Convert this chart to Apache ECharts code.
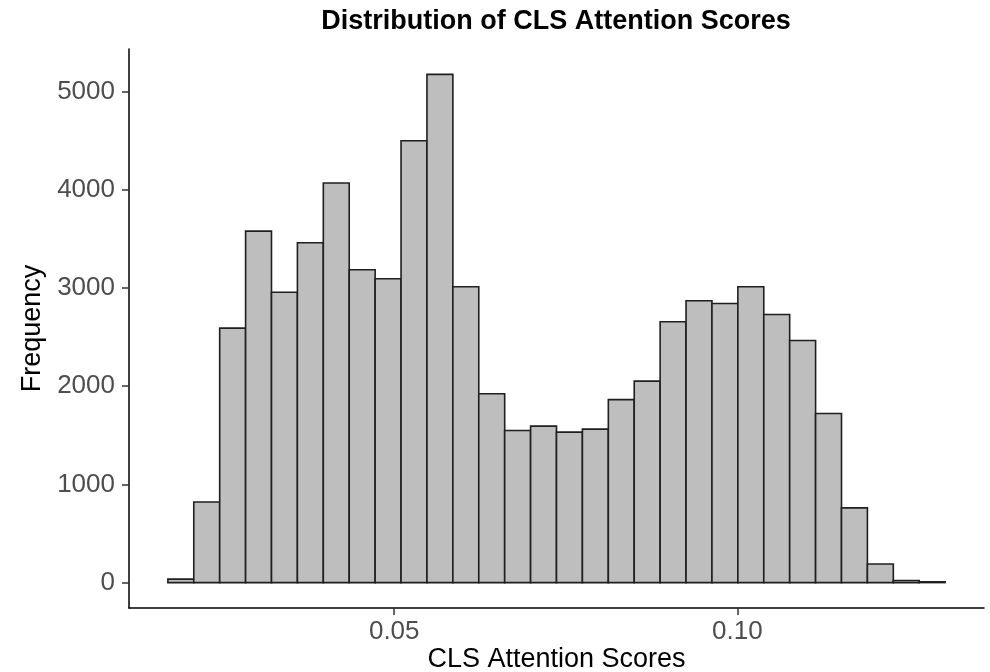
<!DOCTYPE html>
<html>
<head>
<meta charset="utf-8">
<title>Distribution of CLS Attention Scores</title>
<script src="https://cdn.jsdelivr.net/npm/echarts@6/dist/echarts.min.js"></script>
<style>
  html, body { margin: 0; padding: 0; background: #ffffff; }
  #chart { width: 990px; height: 672px; }
</style>
</head>
<body>
<div id="chart"></div>
<script>
// Histogram bins: lower edge of the first bin and common bin width
const binStart = 0.017012;
const binWidth = 0.0037755;

// Counts per bin (30 bins)
const counts = [
  35, 820, 2590, 3578, 2955, 3459, 4067, 3184, 3093, 4498,
  5173, 3011, 1922, 1548, 1593, 1532, 1562, 1862, 2051, 2655,
  2869, 2841, 3011, 2729, 2464, 1721, 761, 190, 22, 8
];

// Tick values
const xTicks = [0.05, 0.10];
const yTicks = [0, 1000, 2000, 3000, 4000, 5000];

const titleText = 'Distribution of CLS Attention Scores';
const xTitle = 'CLS Attention Scores';
const yTitle = 'Frequency';

// Build [lower, upper, count] rows for the custom series
const rows = counts.map((c, i) => [binStart + i * binWidth, binStart + (i + 1) * binWidth, c]);

// Panel range with 5% padding on each side
const xLo = binStart, xHi = binStart + counts.length * binWidth;
const xPad = (xHi - xLo) * 0.05;
const yMax = Math.max(...counts);
const yPad = yMax * 0.05;

const FONT = 'Liberation Sans, Arial, sans-serif';

const chart = echarts.init(document.getElementById('chart'), null, { renderer: 'canvas' });

chart.setOption({
  backgroundColor: '#ffffff',
  animation: false,
  title: {
    text: titleText,
    left: 556,
    top: 8,
    padding: 0,
    textAlign: 'center',
    textStyle: { fontFamily: FONT, fontSize: 27, fontWeight: 'bold', color: '#000000' }
  },
  grid: { left: 129, right: 6, top: 49, bottom: 64, containLabel: false, outerBoundsMode: 'none' },
  xAxis: {
    type: 'value',
    min: xLo - xPad,
    max: xHi + xPad,
    name: xTitle,
    nameLocation: 'middle',
    nameGap: 38,
    nameMoveOverlap: false,
    nameTextStyle: { fontFamily: FONT, fontSize: 27, color: '#000000' },
    axisLine: { show: true, onZero: false, lineStyle: { color: '#000000', width: 1.5 } },
    axisTick: { show: true, customValues: xTicks, length: 7, lineStyle: { color: '#333333', width: 1.5 } },
    axisLabel: {
      customValues: xTicks,
      margin: 11,
      fontFamily: FONT, fontSize: 26, color: '#4d4d4d',
      formatter: v => v.toFixed(2)
    },
    splitLine: { show: false }
  },
  yAxis: {
    type: 'value',
    min: -yPad,
    max: yMax + yPad,
    name: yTitle,
    nameLocation: 'middle',
    nameRotate: 90,
    nameGap: 78,
    nameTextStyle: { fontFamily: FONT, fontSize: 27, color: '#000000' },
    axisLine: { show: true, onZero: false, lineStyle: { color: '#000000', width: 1.5 } },
    axisTick: { show: true, customValues: yTicks, length: 7, lineStyle: { color: '#333333', width: 1.5 } },
    axisLabel: {
      customValues: yTicks,
      margin: 14,
      fontFamily: FONT, fontSize: 26, color: '#4d4d4d',
      formatter: v => String(v)
    },
    splitLine: { show: false }
  },
  series: [{
    type: 'custom',
    data: rows,
    encode: { x: [0, 1], y: 2 },
    renderItem: (params, api) => {
      const topLeft = api.coord([api.value(0), api.value(2)]);
      const bottomRight = api.coord([api.value(1), 0]);
      return {
        type: 'rect',
        shape: {
          x: topLeft[0],
          y: topLeft[1],
          width: bottomRight[0] - topLeft[0],
          height: bottomRight[1] - topLeft[1]
        },
        style: { fill: '#bebebe', stroke: '#1f1f1f', lineWidth: 1.6 }
      };
    }
  }]
});
</script>
</body>
</html>
